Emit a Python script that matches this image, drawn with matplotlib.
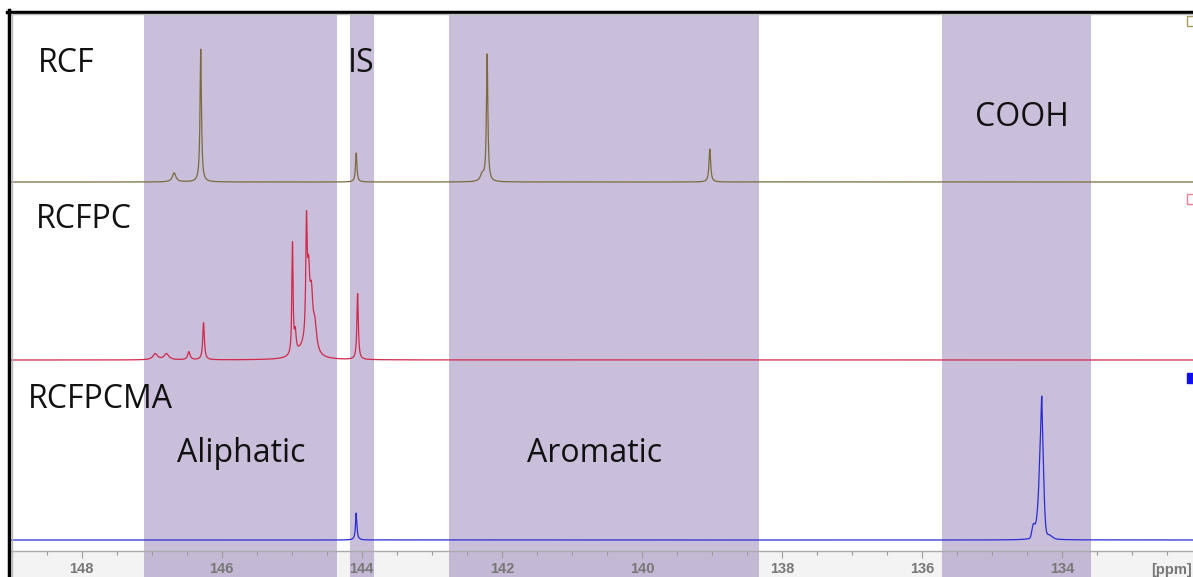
import numpy as np
import matplotlib.pyplot as plt
from matplotlib.lines import Line2D

# chemical shift window (ppm), drawn high -> low
ppm_left, ppm_right = 149.01, 132.13

# shaded assignment regions (ppm, high -> low)
regions = [(147.11, 144.36), (144.17, 143.83), (142.76, 138.33), (135.71, 133.59)]

# peak lists per sample: position (ppm), height, half width (ppm), shape (L/G)
rcf_pos = [146.68, 146.30, 144.08, 142.28, 142.21, 139.03]
rcf_h = [9, 133, 29, 7, 127, 33]
rcf_w = [0.03, 0.012, 0.012, 0.03, 0.012, 0.014]
rcf_shape = ["L", "L", "L", "L", "L", "L"]

rcfpc_pos = [146.95, 146.79, 146.47, 146.26, 144.99, 144.95, 144.82,
             144.79, 144.76, 144.72, 144.67, 144.06]
rcfpc_h = [6, 6, 8, 37, 111, 20, 10, 112, 65, 50, 25, 66]
rcfpc_w = [0.04, 0.04, 0.02, 0.014, 0.01, 0.015, 0.12,
           0.012, 0.02, 0.025, 0.03, 0.012]
rcfpc_shape = ["L"] * 12

rcfpcma_pos = [144.08, 134.41, 134.33, 134.29, 134.29, 134.30, 134.18]
rcfpcma_h = [27, 12, 25, 96, 30, 5, 3]
rcfpcma_w = [0.012, 0.02, 0.035, 0.026, 0.008, 0.1, 0.04]
rcfpcma_shape = ["L", "G", "G", "G", "L", "L", "G"]

baselines = [369, 191, 11]
colors = ["#7a6b3c", "#d2284a", "#2b2bd6"]

major_ticks = [148, 146, 144, 142, 140, 138, 136, 134]
shade = "#c9bfdb"

ppm = np.linspace(ppm_right, ppm_left, 9000)


def spectrum(pos, h, w, shape):
    y = np.zeros_like(ppm)
    for p, a, g, s in zip(pos, h, w, shape):
        if s == "L":
            y += a * g**2 / ((ppm - p) ** 2 + g**2)
        else:
            y += a * np.exp(-((ppm - p) ** 2) / (2 * g**2))
    return y


W, H = 1193, 577
fig = plt.figure(figsize=(W / 100, H / 100), dpi=100)

# gray scale band under the plot
band = fig.add_axes([11 / W, 0, 1 - 11 / W, 26 / H])
band.set_facecolor("#f3f3f3")
band.set_xlim(ppm_left, ppm_right)
band.set_ylim(0, 1)
for a, b in regions:
    band.axvspan(a, b, color="#c3b9d4", lw=0)
band.set_xticks([])
band.set_yticks([])
for s in band.spines.values():
    s.set_visible(False)

ax = fig.add_axes([11 / W, 26 / H, 1 - 11 / W, (551 - 13) / H])
ax.set_xlim(ppm_left, ppm_right)
ax.set_ylim(0, 538)
for a, b in regions:
    ax.axvspan(a, b, color=shade, lw=0, zorder=0)

for pos, h, w, sh, base, c in zip(
    [rcf_pos, rcfpc_pos, rcfpcma_pos],
    [rcf_h, rcfpc_h, rcfpcma_h],
    [rcf_w, rcfpc_w, rcfpcma_w],
    [rcf_shape, rcfpc_shape, rcfpcma_shape],
    baselines, colors,
):
    ax.plot(ppm, base + spectrum(pos, h, w, sh), color=c, lw=0.9, zorder=3)

# small trace markers at the right edge
ax.plot([132.15], [530], marker="s", ms=7, mfc="none", mec="#a89a5c", mew=1, clip_on=False)
ax.plot([132.15], [352], marker="s", ms=7, mfc="none", mec="#f08090", mew=1, clip_on=False)
ax.plot([132.15], [173], marker="s", ms=7, mfc="#1010f0", mec="#1010f0", clip_on=False)

lab = dict(fontsize=23, family="Open Sans", color="#111111", va="center")
ax.text(148.63, 487, "RCF", **lab)
ax.text(144.20, 487, "IS", **lab)
ax.text(135.24, 434, "COOH", **lab)
ax.text(148.66, 331, "RCFPC", **lab)
ax.text(148.77, 151, "RCFPCMA", **lab)
ax.text(146.64, 97, "Aliphatic", **lab)
ax.text(141.64, 97, "Aromatic", **lab)

ax.set_yticks([])
ax.set_xticks(major_ticks)
ax.set_xticks(np.arange(132.5, 149.01, 0.5), minor=True)
ax.set_xticklabels([str(t) for t in major_ticks], fontsize=10.5, fontweight="bold",
                   family="Liberation Sans", color="#777777")
ax.tick_params(axis="x", which="major", direction="out", length=4.8, width=0.8,
               color="#999999", pad=3)
ax.tick_params(axis="x", which="minor", direction="out", length=2.7, width=0.8,
               color="#999999")
for side in ["top", "left", "right"]:
    ax.spines[side].set_visible(False)
ax.spines["bottom"].set_color("#aaaaaa")
ax.spines["bottom"].set_linewidth(1)

# axis unit at the right end of the scale
fig.text(1151 / W, 7 / H, "[ppm]", fontsize=10.5, fontweight="bold",
         family="Liberation Sans", color="#777777", va="center")

# window frame: thick black left and top edges
fig.add_artist(Line2D([8.5 / W, 8.5 / W], [0, 1 - 10 / H], color="black", lw=2.5))
fig.add_artist(Line2D([7 / W, 1], [1 - 11.5 / H, 1 - 11.5 / H], color="black", lw=2.5))
fig.add_artist(Line2D([11.5 / W, 1], [1 - 14 / H, 1 - 14 / H], color="#bbbbbb", lw=1))
fig.add_artist(Line2D([11.5 / W, 11.5 / W], [0, 1 - 14 / H], color="#bbbbbb", lw=1))

fig.savefig("out.png", dpi=100)
